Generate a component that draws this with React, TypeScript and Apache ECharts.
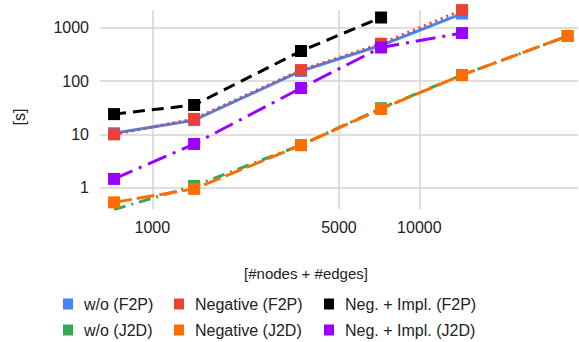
import React, { useEffect, useRef } from 'react';
import * as echarts from 'echarts';

// x: graph size [#nodes + #edges]
const nodesEdges = [719, 1434, 3605, 7188, 14450, 35900];
// y: time [s]
const woF2P = [10.5, 18.5, 155, 470, 1850];
const negativeF2P = [10, 19.5, 161, 503, 2150];
const negImplF2P = [24, 35.6, 367, 1560];
const woJ2D = [0.39, 1.08, 6.3, 31, 130, 700];
const negativeJ2D = [0.53, 0.95, 6.3, 30, 130, 702];
const negImplJ2D = [1.46, 6.6, 74, 427, 797];

const seriesNames = [
  'w/o (F2P)',
  'Negative (F2P)',
  'Neg. + Impl. (F2P)',
  'w/o (J2D)',
  'Negative (J2D)',
  'Neg. + Impl. (J2D)',
];
const seriesValues = [woF2P, negativeF2P, negImplF2P, woJ2D, negativeJ2D, negImplJ2D];
const seriesColors = ['#4285F4', '#EA4335', '#000000', '#34A853', '#FF6D01', '#9900FF'];
const seriesDashes: any[] = ['solid', [2, 4], [12, 7], [12, 6, 2, 6], [18, 5], [20, 7, 3, 7]];

const xTicks = [1000, 5000, 10000];
const yTicks = [1, 10, 100, 1000];

const FONT = '"Liberation Sans", Arial, Helvetica, sans-serif';

export default function App() {
  const ref = useRef<HTMLDivElement>(null);

  useEffect(() => {
    document.body.style.margin = '0';
    const chart = echarts.init(ref.current!, null, { renderer: 'svg' });

    const series = seriesNames.map((name, si) => ({
      type: 'line',
      name,
      data: seriesValues[si].map((v, i) => [nodesEdges[i], v]),
      symbol: 'rect',
      symbolSize: 12,
      showSymbol: true,
      clip: true,
      silent: true,
      itemStyle: { color: seriesColors[si], borderWidth: 0 },
      lineStyle: { color: seriesColors[si], width: 3, type: seriesDashes[si] },
      emphasis: { disabled: true },
    }));

    const legendCommon = {
      orient: 'vertical',
      top: 296,
      padding: 0,
      icon: 'rect',
      itemWidth: 10,
      itemHeight: 11,
      itemGap: 10,
      selectedMode: false,
      itemStyle: { borderWidth: 0 },
      textStyle: { fontSize: 16, color: '#222', fontFamily: FONT, lineHeight: 16, padding: [0, 0, 0, 6] },
    };

    const plain = (v: number) => String(Math.round(v));

    chart.setOption({
      animation: false,
      grid: { left: 100, right: 1, top: 10, bottom: 133, containLabel: false, outerBoundsMode: 'none' },
      xAxis: {
        type: 'log',
        logBase: 10,
        min: 637,
        max: 39270,
        axisLine: { show: false },
        axisTick: { show: false, customValues: xTicks },
        axisLabel: { customValues: xTicks, formatter: plain, margin: 10, fontSize: 16, color: '#222', fontFamily: FONT },
        splitLine: { show: true, lineStyle: { color: '#d4d4d4', width: 1.5 } },
        minorSplitLine: { show: false },
      },
      yAxis: {
        type: 'log',
        logBase: 10,
        min: 0.398,
        max: 2158,
        axisLine: { show: false },
        axisTick: { show: false, customValues: yTicks },
        axisLabel: { customValues: yTicks, formatter: plain, margin: 11, fontSize: 16, color: '#222', fontFamily: FONT },
        splitLine: { show: true, lineStyle: { color: '#d4d4d4', width: 1.5 } },
        minorSplitLine: { show: false },
      },
      legend: [
        { ...legendCommon, left: 63, data: [seriesNames[0], seriesNames[3]] },
        { ...legendCommon, left: 174, data: [seriesNames[1], seriesNames[4]] },
        { ...legendCommon, left: 324, data: [seriesNames[2], seriesNames[5]] },
      ],
      graphic: [
        {
          type: 'text',
          x: 306,
          y: 273,
          style: { text: '[#nodes + #edges]', fontSize: 15, fill: '#222', align: 'center', verticalAlign: 'middle', fontFamily: FONT },
        },
        {
          type: 'text',
          x: 19,
          y: 117,
          rotation: Math.PI / 2,
          style: { text: '[s]', fontSize: 16, fill: '#222', align: 'center', verticalAlign: 'middle', fontFamily: FONT },
        },
      ],
      series,
    });

    return () => chart.dispose();
  }, []);

  return <div ref={ref} style={{ width: 579, height: 342 }} />;
}
